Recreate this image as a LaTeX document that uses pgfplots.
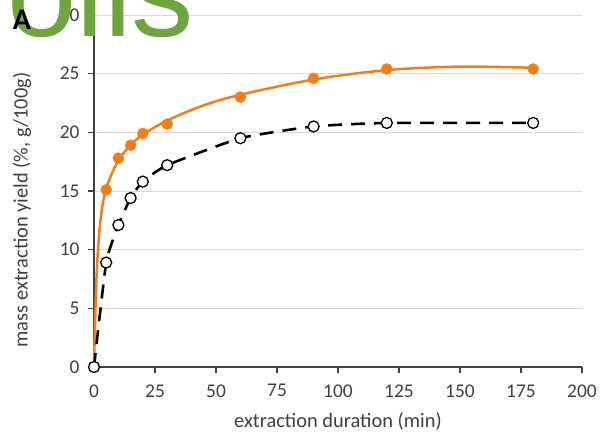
\documentclass[border=0pt]{standalone}
\usepackage{pgfplots}
\pgfplotsset{compat=1.18}
\usepackage{fontspec}
\setmainfont{Carlito}
\newfontfamily\greenfont{Liberation Sans}
\definecolor{orng}{RGB}{245,124,22}
\definecolor{axgray}{RGB}{64,64,64}
\definecolor{gridc}{RGB}{217,217,217}
\definecolor{grn}{RGB}{112,164,62}
\begin{document}
\begin{tikzpicture}[x=1bp,y=1bp]
\path[use as bounding box] (0,0) rectangle (600,442);
\begin{axis}[
  at={(94bp,75bp)}, anchor=south west,
  scale only axis, width=488bp, height=352bp,
  xmin=0, xmax=200, ymin=0, ymax=30,
  xtick={0,25,...,200}, ytick={0,5,...,30},
  axis x line*=bottom, axis y line*=left,
  axis line style={axgray, line width=1.3pt, -},
  tick style={axgray, line width=1.1pt},
  tick align=outside, major tick length=6bp,
  ymajorgrids, grid style={gridc, line width=0.9pt},
  xmajorgrids=false,
  ticklabel style={font=\fontsize{19.5}{21}\selectfont, text=axgray},
  yticklabel style={xshift=-5bp},
  xticklabel style={yshift=-8bp},
  /pgf/number format/assume math mode=true,
  xlabel={extraction duration (min)},
  ylabel={mass extraction yield (\%, g/100g)},
  label style={font=\fontsize{20.5}{22}\selectfont, text=axgray},
  xlabel style={at={(axis description cs:0.5,0)}, anchor=center, yshift=-54bp},
  ylabel style={at={(axis description cs:-0.1475,0.446)}, anchor=center},
  clip=false,
]
% orange trend line
\addplot[orng, line width=2.5pt, smooth, tension=0.55] coordinates {
 (0,0) (1,7.5) (2.5,12.2) (5,15.2) (10,17.6) (15,18.9) (20,19.8) (30,21.0)
 (45,22.3) (60,23.2) (90,24.5) (120,25.3) (150,25.6) (180,25.5)};
% orange data
\addplot[only marks, mark=*, mark size=5.5bp, mark options={fill=orng, draw=orng}] coordinates {
 (0,0) (5,15.1) (10,17.8) (15,18.9) (20,19.9) (30,20.7) (60,23.0) (90,24.6) (120,25.4) (180,25.4)};
% black dashed
\addplot[black, line width=2.6pt, dash pattern=on 14bp off 9bp, smooth, tension=0.3,
  mark=*, mark size=5.5bp, mark options={solid, fill=white, draw=black, line width=1.3pt}] coordinates {
 (0,0) (5,8.9) (10,12.1) (15,14.4) (20,15.8) (30,17.2) (60,19.5) (90,20.5) (120,20.8) (180,20.8)};
\end{axis}
\node[font=\greenfont\fontsize{125}{130}\selectfont, text=grn, anchor=base west, inner sep=0pt] at (7,405) {oils};
\node[font=\fontsize{30}{32}\selectfont\bfseries, anchor=center, inner sep=0pt] at (22,422) {A};
\end{tikzpicture}
\end{document}
